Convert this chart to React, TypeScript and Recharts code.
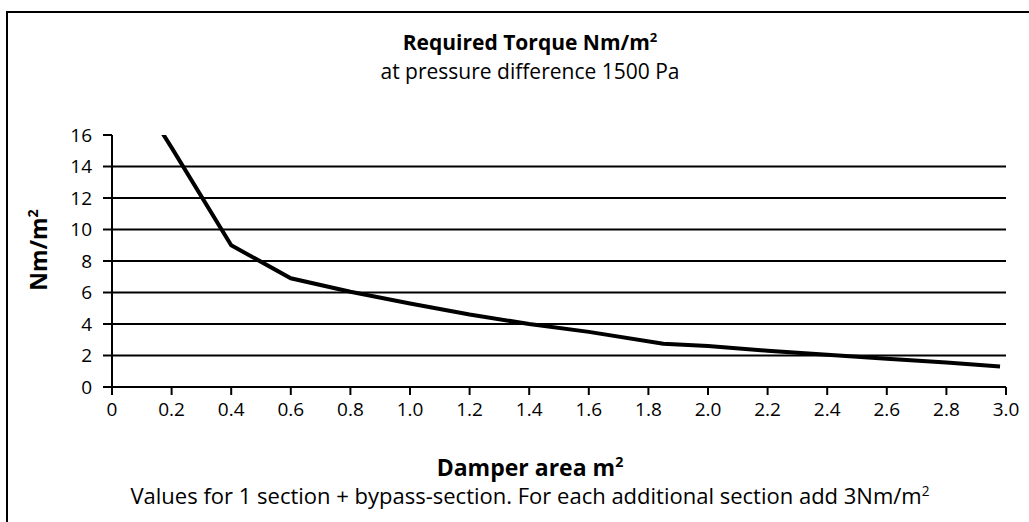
import { LineChart, Line, XAxis, YAxis, ReferenceLine } from 'recharts';

const area = [0.17, 0.2, 0.4, 0.6, 0.8, 1.0, 1.2, 1.4, 1.6, 1.85, 2.0, 2.2, 2.4, 2.6, 2.8, 2.98];
const torque = [16.1, 15.2, 9.0, 6.9, 6.05, 5.3, 4.6, 4.0, 3.5, 2.75, 2.6, 2.3, 2.05, 1.8, 1.55, 1.3];

const xTicks = [0, 0.2, 0.4, 0.6, 0.8, 1.0, 1.2, 1.4, 1.6, 1.8, 2.0, 2.2, 2.4, 2.6, 2.8, 3.0];
const yTicks = [0, 2, 4, 6, 8, 10, 12, 14, 16];
const gridLines = [2, 4, 6, 8, 10, 12, 14];

const data = area.map((a, i) => ({ area: a, torque: torque[i] }));

const font = '"Open Sans", sans-serif';
const sup = { fontSize: '0.62em', lineHeight: 0 };

export default function App() {
  return (
    <div style={{ position: 'absolute', left: 0, top: 0, width: 1029, height: 522, overflow: 'hidden', background: '#fff', fontFamily: font, color: '#000' }}>
      {/* frame runs off the right and bottom edge */}
      <div style={{ position: 'absolute', left: 6, top: 11, width: 1040, height: 540, border: '2px solid #000' }} />

      <div style={{ position: 'absolute', left: 0, width: 1060, top: 30, textAlign: 'center', fontWeight: 700, fontSize: 21, lineHeight: '24px' }}>
        Required Torque Nm/m<sup style={sup}>2</sup>
      </div>
      <div style={{ position: 'absolute', left: 0, width: 1060, top: 60, textAlign: 'center', fontSize: 21, lineHeight: '22px' }}>
        at pressure difference 1500 Pa
      </div>

      <LineChart width={1029} height={522} data={data} margin={{ top: 135, right: 23, bottom: 105, left: 0 }}
        style={{ position: 'absolute', left: 0, top: 0 }}>
        {gridLines.map((g) => (
          <ReferenceLine key={g} y={g} stroke="#000" strokeWidth={2} />
        ))}
        <XAxis dataKey="area" type="number" domain={[0, 3]} ticks={xTicks} interval={0} height={30}
          tickFormatter={(v: number) => (v === 0 ? '0' : v.toFixed(1))}
          axisLine={{ stroke: '#000', strokeWidth: 2 }} tickLine={{ stroke: '#000', strokeWidth: 2 }}
          tickSize={8} tickMargin={8} tick={{ fill: '#000', fontSize: 19, fontFamily: font }} />
        <YAxis type="number" domain={[0, 16]} allowDataOverflow ticks={yTicks} interval={0} width={112}
          axisLine={{ stroke: '#000', strokeWidth: 2 }} tickLine={{ stroke: '#000', strokeWidth: 2 }}
          tickSize={9} tickMargin={11} tick={{ fill: '#000', fontSize: 19, fontFamily: font }} />
        <Line dataKey="torque" type="linear" stroke="#000" strokeWidth={4} dot={false} isAnimationActive={false} />
      </LineChart>

      <div style={{ position: 'absolute', left: 38, top: 250, transform: 'translate(-50%, -50%) rotate(-90deg)', whiteSpace: 'nowrap', fontWeight: 700, fontSize: 23, lineHeight: '30px' }}>
        Nm/m<sup style={sup}>2</sup>
      </div>

      <div style={{ position: 'absolute', left: 0, width: 1060, top: 453, textAlign: 'center', fontWeight: 700, fontSize: 23, lineHeight: '28px' }}>
        Damper area m<sup style={sup}>2</sup>
      </div>
      <div style={{ position: 'absolute', left: 0, width: 1060, top: 482, textAlign: 'center', fontSize: 22, lineHeight: '26px' }}>
        Values for 1 section + bypass-section. For each additional section add 3Nm/m<sup style={sup}>2</sup>
      </div>
    </div>
  );
}
